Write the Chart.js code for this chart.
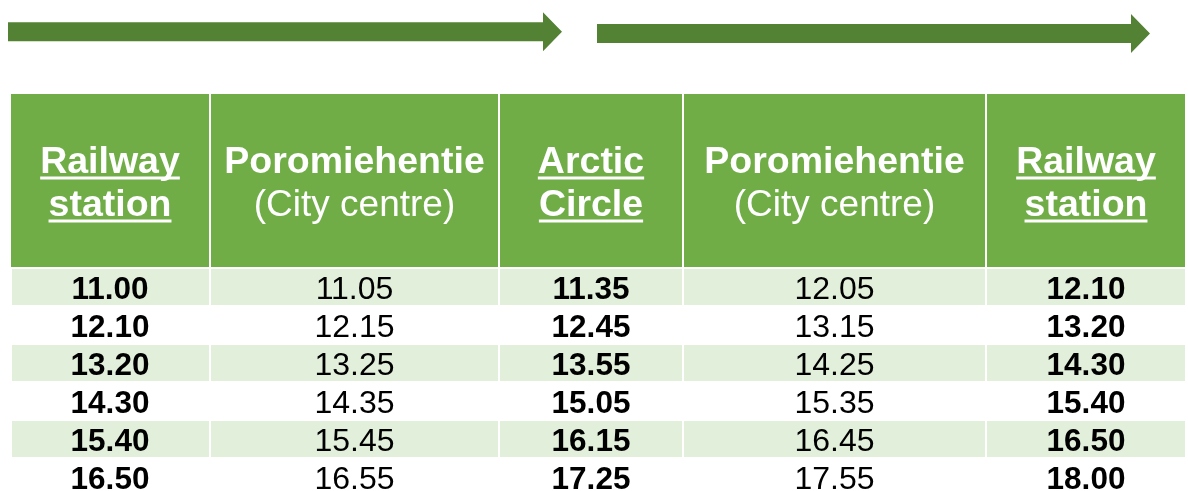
<!DOCTYPE html>
<html>
<head>
<meta charset="utf-8">
<script src="https://cdn.jsdelivr.net/npm/chart.js@4.4.1/dist/chart.umd.min.js"></script>
<style>
    html, body { margin: 0; padding: 0; background: #ffffff; }
    #wrap { width: 1188px; height: 491px; position: relative; }
</style>
</head>
<body>
<div id="wrap"><canvas id="timetable"></canvas></div>
<script>
// Pys칛kit (otsikot) ja l칛ht칬ajat sarakkeittain
const stopLines = [
    ['Railway', 'station'],
    ['Poromiehentie', '(City centre)'],
    ['Arctic', 'Circle'],
    ['Poromiehentie', '(City centre)'],
    ['Railway', 'station']
];
const mainStop = [true, false, true, false, true];

const railwayOut   = ['11.00', '12.10', '13.20', '14.30', '15.40', '16.50'];
const cityOut      = ['11.05', '12.15', '13.25', '14.35', '15.45', '16.55'];
const arcticCircle = ['11.35', '12.45', '13.55', '15.05', '16.15', '17.25'];
const cityBack     = ['12.05', '13.15', '14.25', '15.35', '16.45', '17.55'];
const railwayBack  = ['12.10', '13.20', '14.30', '15.40', '16.50', '18.00'];
const columns = [railwayOut, cityOut, arcticCircle, cityBack, railwayBack];

// Asettelu (skaalan yksik칬iss칛)
const tableLeft = 11;
const tableTop = 94;
const colWidths = [199, 289, 184, 303, 200];
const headerHeight = 173;
const rowHeight = 38;
const arrows = [
    { from: 8, headAt: 543, to: 562, mid: 31.7 },
    { from: 597, headAt: 1131, to: 1150, mid: 33.5 }
];

const green = '#70AD47';
const lightGreen = '#E2EFDA';
const arrowGreen = '#548235';
const fontFamily = '"Liberation Sans", Arial, sans-serif';

const timetablePlugin = {
    id: 'timetable',
    afterDraw(chart) {
        const { ctx, scales: { x, y } } = chart;
        const px = v => x.getPixelForValue(v);
        const py = v => y.getPixelForValue(v);

        ctx.save();

        // Nuolet
        ctx.fillStyle = arrowGreen;
        arrows.forEach(a => {
            ctx.beginPath();
            ctx.moveTo(px(a.from), py(a.mid - 9.5));
            ctx.lineTo(px(a.headAt), py(a.mid - 9.5));
            ctx.lineTo(px(a.headAt), py(a.mid - 19.5));
            ctx.lineTo(px(a.to), py(a.mid));
            ctx.lineTo(px(a.headAt), py(a.mid + 19.5));
            ctx.lineTo(px(a.headAt), py(a.mid + 9.5));
            ctx.lineTo(px(a.from), py(a.mid + 9.5));
            ctx.closePath();
            ctx.fill();
        });

        // Sarakkeiden reunat
        const edges = [tableLeft];
        colWidths.forEach(w => edges.push(edges[edges.length - 1] + w));

        columns.forEach((times, c) => {
            const x0 = px(edges[c] + (c === 0 ? 0 : 1));
            const x1 = px(edges[c + 1] - 1);
            const cx = (x0 + x1) / 2;

            // Otsikko
            ctx.fillStyle = green;
            ctx.fillRect(x0, py(tableTop), x1 - x0, py(tableTop + headerHeight) - py(tableTop));

            const headMid = tableTop + headerHeight / 2;
            const baselines = [headMid - 8, headMid + 35];
            ctx.fillStyle = '#ffffff';
            ctx.textAlign = 'center';
            ctx.textBaseline = 'alphabetic';
            stopLines[c].forEach((line, i) => {
                const bold = mainStop[c] || i === 0;
                ctx.font = bold ? 'bold 37.5px ' + fontFamily : '37px ' + fontFamily;
                const by = py(baselines[i]);
                ctx.fillText(line, cx, by);
                if (mainStop[c]) {
                    const w = ctx.measureText(line).width;
                    ctx.fillRect(cx - w / 2, by + 4, w, 3);
                }
            });

            // Ajat
            times.forEach((t, r) => {
                const top = tableTop + headerHeight + 1 + r * rowHeight;
                if (r % 2 === 0) {
                    ctx.fillStyle = lightGreen;
                    ctx.fillRect(x0 + (c === 0 ? 1 : 0), py(top + 1), x1 - x0 - (c === 0 ? 1 : 0), py(top + rowHeight - 1) - py(top + 1));
                }
                ctx.fillStyle = '#000000';
                ctx.font = mainStop[c] ? 'bold 31.5px ' + fontFamily : '32px ' + fontFamily;
                ctx.fillText(t, cx, py(top + rowHeight / 2 + 11.5));
            });
        });

        ctx.restore();
    }
};

new Chart(document.getElementById('timetable'), {
    type: 'scatter',
    data: { datasets: [] },
    options: {
        responsive: true,
        maintainAspectRatio: false,
        animation: false,
        layout: { padding: 0 },
        plugins: {
            legend: { display: false },
            tooltip: { enabled: false }
        },
        scales: {
            x: { type: 'linear', min: 0, max: 1188, display: false },
            y: { type: 'linear', min: 0, max: 491, reverse: true, display: false }
        }
    },
    plugins: [timetablePlugin]
});
</script>
</body>
</html>
